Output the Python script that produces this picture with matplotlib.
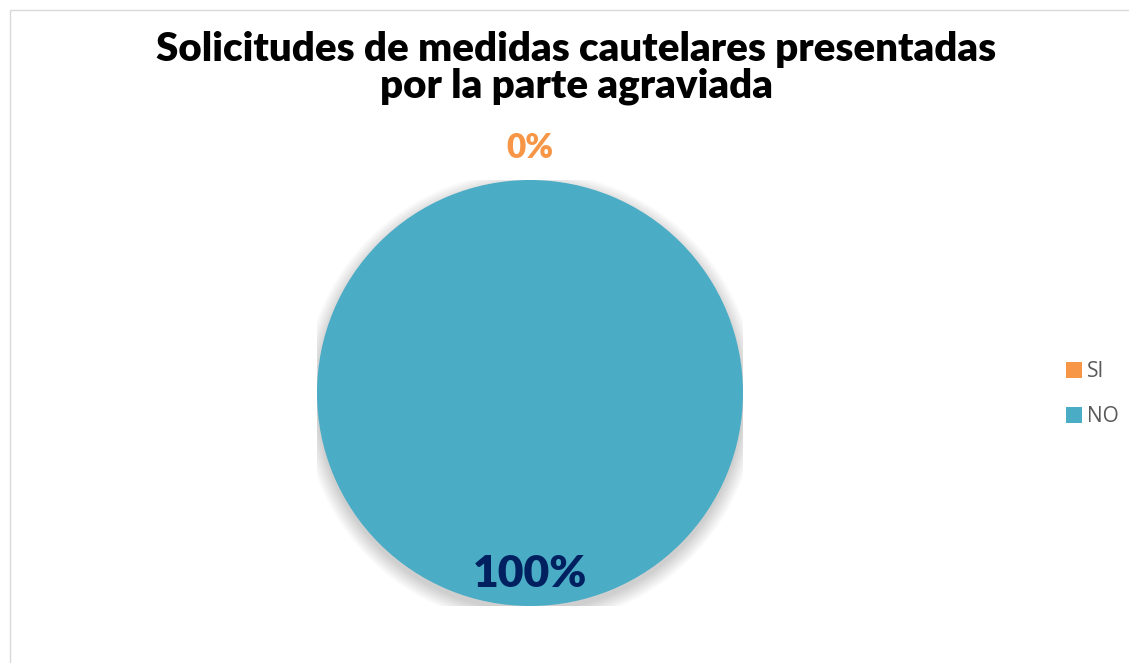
import numpy as np
import matplotlib.pyplot as plt
from matplotlib.patches import Rectangle, Ellipse

categories = ["SI", "NO"]
values = [0, 100]
colors = ["#F79646", "#4BACC6"]
label_colors = ["#F79646", "#002060"]
label_sizes = [24, 32]
title = "Solicitudes de medidas cautelares presentadas\npor la parte agraviada"

W, H = 1129, 663
fig = plt.figure(figsize=(W / 100, H / 100), dpi=100)

# outer chart border
fig.patches.append(Rectangle((10 / W, -0.1), 1.2, 1.1 - 10 / H, transform=fig.transFigure,
                             fill=False, edgecolor="#D9D9D9", linewidth=1))

ax = fig.add_axes([317 / W, 57 / H, 426 / W, 426 / H])

# soft shadow under the pie
for i in range(12):
    ax.add_patch(Ellipse((0, -0.025), 2.0 + 0.012 * i, 2.0 + 0.012 * i,
                         facecolor="black", alpha=0.014, edgecolor="none", zorder=0))

wedges, _ = ax.pie(values, colors=colors, startangle=90, counterclock=False,
                   radius=1.0, wedgeprops=dict(linewidth=0))
for w in wedges:
    w.set_zorder(2)

total = sum(values)
for w, v, c, s in zip(wedges, values, label_colors, label_sizes):
    mid = np.deg2rad((w.theta1 + w.theta2) / 2)
    r = 1.15 if v == 0 else 0.85
    ax.text(r * np.cos(mid), r * np.sin(mid), f"{v / total * 100:.0f}%",
            ha="center", va="center", color=c, fontsize=s, fontweight="heavy",
            family="Lato", zorder=3)

ax.set_xlim(-1, 1)
ax.set_ylim(-1, 1)
ax.set_aspect("equal")
ax.axis("off")

fig.text(576 / W, 1 - 68 / H, title, ha="center", va="center", fontsize=29,
         fontweight="heavy", family="Lato", linespacing=1.0)

fig.legend(wedges, categories, loc="center left", bbox_to_anchor=(1047 / W, 1 - 394 / H),
           frameon=False, handlelength=0.8, handleheight=0.8, labelspacing=1.15,
           prop=dict(family="Open Sans", size=15), labelcolor="#595959", handletextpad=0.2)

fig.savefig("out.png", dpi=100)
